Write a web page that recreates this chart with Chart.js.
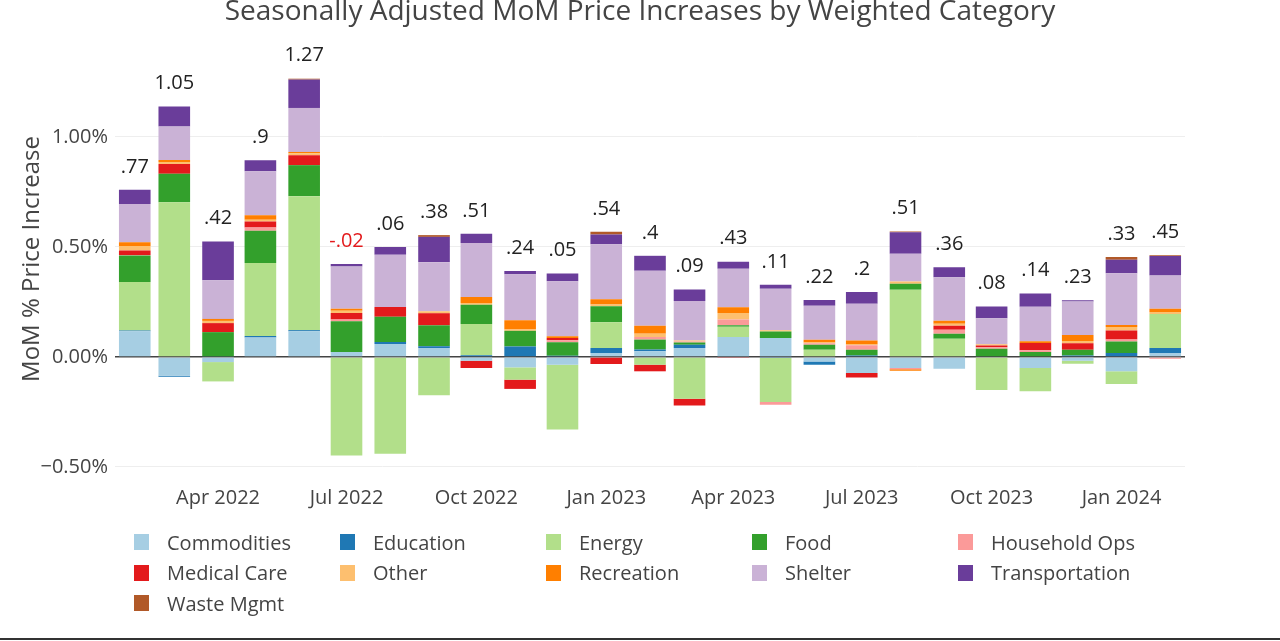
<!DOCTYPE html>
<html>
<head>
<meta charset="utf-8">
<script src="https://cdn.jsdelivr.net/npm/chart.js@4.4.1/dist/chart.umd.min.js"></script>
<style>
  html, body { margin: 0; padding: 0; background: #fff; }
  #wrap { position: relative; width: 1280px; height: 641px; overflow: hidden; font-family: "Open Sans", sans-serif; }
  #chart { position: absolute; left: 0; top: 0; }
  #legend { position: absolute; left: 0; top: 0; width: 1280px; height: 641px; pointer-events: none; }
  .item { position: absolute; display: flex; align-items: center; height: 20px; font-size: 20px; color: #444; white-space: nowrap; }
  .swatch { width: 15px; height: 16px; margin-right: 18px; }
  #bottomline { position: absolute; left: 0; right: 0; top: 638px; height: 2px; background: #333; }
</style>
</head>
<body>
<div id="wrap">
  <canvas id="chart" width="1280" height="641"></canvas>
  <div id="legend"></div>
  <div id="bottomline"></div>
</div>
<script>
const months = ['Feb 2022', 'Mar 2022', 'Apr 2022', 'May 2022', 'Jun 2022', 'Jul 2022', 'Aug 2022', 'Sep 2022',
  'Oct 2022', 'Nov 2022', 'Dec 2022', 'Jan 2023', 'Feb 2023', 'Mar 2023', 'Apr 2023', 'May 2023', 'Jun 2023',
  'Jul 2023', 'Aug 2023', 'Sep 2023', 'Oct 2023', 'Nov 2023', 'Dec 2023', 'Jan 2024', 'Feb 2024'];
const tickLabels = ['Apr 2022', 'Jul 2022', 'Oct 2022', 'Jan 2023', 'Apr 2023', 'Jul 2023', 'Oct 2023', 'Jan 2024'];

const categories = ['Commodities', 'Education', 'Energy', 'Food', 'Household Ops', 'Medical Care',
  'Other', 'Recreation', 'Shelter', 'Transportation', 'Waste Mgmt'];
const colors = ['#a6cee3', '#1f78b4', '#b2df8a', '#33a02c', '#fb9a99', '#e31a1c',
  '#fdbf6f', '#ff7f00', '#cab2d6', '#6a3d9a', '#b15928'];

// weighted MoM contribution (percentage points) per category
const commodities = [0.117, -0.085, -0.023, 0.089, 0.117, 0.023, 0.059, 0.041, -0.017, -0.047, -0.035, 0.018, 0.026,
  0.041, 0.091, 0.086, -0.02, -0.073, -0.05, -0.053, 0, -0.05, -0.017, -0.065, 0.018];
const education = [0.004, -0.005, 0.003, 0.006, 0.005, 0, 0.009, 0.008, 0.008, 0.048, 0.006, 0.023, 0.008,
  0.015, 0, -0.005, -0.015, 0.007, 0, 0, 0, 0, 0.007, 0.018, 0.023];
const energy = [0.22, 0.703, -0.088, 0.332, 0.609, -0.448, -0.44, -0.174, 0.142, -0.056, -0.295, 0.117, -0.035,
  -0.19, 0.047, -0.2, 0.033, 0, 0.306, 0.083, -0.15, -0.106, -0.014, -0.058, 0.155];
const food = [0.12, 0.13, 0.11, 0.147, 0.141, 0.139, 0.115, 0.095, 0.088, 0.071, 0.061, 0.073, 0.045,
  0.01, 0.006, 0.03, 0.023, 0.026, 0.027, 0.023, 0.038, 0.023, 0.026, 0.053, 0];
const householdOps = [0.003, 0, 0, 0.015, 0, 0.008, 0, 0, 0, 0, 0.009, 0, 0.012,
  0.005, 0.026, -0.012, 0.006, 0.02, -0.006, 0.018, 0.006, 0.008, 0, 0.008, -0.008];
const medicalCare = [0.02, 0.044, 0.041, 0.027, 0.045, 0.03, 0.044, 0.055, -0.033, -0.042, 0.01, -0.032, -0.03,
  -0.03, -0.004, 0, 0, -0.02, 0, 0.018, 0.008, 0.033, 0.03, 0.042, 0];
const other = [0.02, 0.009, 0.01, 0.008, 0.009, 0.01, 0, 0.009, 0.008, 0.006, 0, 0.008, 0.015,
  0.004, 0.03, 0.006, 0.004, 0.004, 0.01, 0.009, 0.006, 0, 0.01, 0.015, 0.009];
const recreation = [0.018, 0.01, 0.009, 0.02, 0.006, 0.009, 0, 0, 0.027, 0.042, 0.008, 0.023, 0.036,
  0, 0.026, 0, 0.012, 0.018, -0.006, 0.014, 0, 0.008, 0.027, 0.01, 0.014];
const shelter = [0.174, 0.152, 0.176, 0.2, 0.2, 0.192, 0.238, 0.223, 0.245, 0.209, 0.25, 0.25, 0.25,
  0.18, 0.175, 0.188, 0.155, 0.167, 0.126, 0.198, 0.118, 0.156, 0.152, 0.235, 0.152];
const transportation = [0.064, 0.091, 0.176, 0.05, 0.129, 0.012, 0.035, 0.115, 0.042, 0.015, 0.035, 0.045, 0.068,
  0.052, 0.032, 0.018, 0.026, 0.053, 0.098, 0.045, 0.053, 0.061, 0.006, 0.061, 0.088];
const wasteMgmt = [0, 0, 0, 0, 0.004, 0, 0, 0.008, 0, 0, 0, 0.012, 0,
  0, 0, 0, 0, 0, 0.003, 0, 0, 0, 0, 0.012, 0.004];

// headline MoM totals printed above each bar
const totals = [0.77, 1.05, 0.42, 0.9, 1.27, -0.02, 0.06, 0.38, 0.51, 0.24, 0.05, 0.54, 0.4,
  0.09, 0.43, 0.11, 0.22, 0.2, 0.51, 0.36, 0.08, 0.14, 0.23, 0.33, 0.45];

const yTicks = [-0.5, 0, 0.5, 1.0];

const series = [commodities, education, energy, food, householdOps, medicalCare,
  other, recreation, shelter, transportation, wasteMgmt];

const FONT = '"Open Sans", sans-serif';
const MON = ['Jan', 'Feb', 'Mar', 'Apr', 'May', 'Jun', 'Jul', 'Aug', 'Sep', 'Oct', 'Nov', 'Dec'];

// x axis is a real date axis: days since the first month
function dayOf(label) {
  const [m, y] = label.split(' ');
  return (Date.UTC(+y, MON.indexOf(m), 1) - Date.UTC(2022, 1, 1)) / 86400000;
}
const days = months.map(dayOf);
const tickDays = tickLabels.map(dayOf);
const halfGap = 14; // half of the shortest month

function fmtTotal(v) {
  return String(v).replace(/^(-?)0\./, '$1.');
}

const overlay = {
  id: 'overlay',
  afterDatasetsDraw(chart) {
    const { ctx, scales: { x, y } } = chart;
    ctx.save();
    ctx.font = '28px ' + FONT;
    ctx.fillStyle = '#444';
    ctx.textAlign = 'center';
    ctx.textBaseline = 'alphabetic';
    ctx.fillText('Seasonally Adjusted MoM Price Increases by Weighted Category', 640, 20);

    ctx.font = '20px ' + FONT;
    ctx.textBaseline = 'middle';
    totals.forEach((t, i) => {
      let top = 0;
      series.forEach(s => { if (s[i] > 0) top += s[i]; });
      ctx.fillStyle = t < 0 ? '#e31a1c' : '#222';
      ctx.fillText(fmtTotal(t), x.getPixelForValue(days[i]), y.getPixelForValue(top) - 23);
    });
    ctx.restore();
  }
};

new Chart(document.getElementById('chart'), {
  type: 'bar',
  data: {
    datasets: categories.map((name, k) => ({
      label: name,
      data: series[k].map((v, i) => ({ x: days[i], y: v })),
      backgroundColor: colors[k],
      borderWidth: 0,
      barPercentage: 0.8,
      categoryPercentage: 1
    }))
  },
  options: {
    responsive: false,
    animation: false,
    layout: { padding: { top: 40, right: 95, bottom: 123, left: 0 } },
    plugins: {
      legend: { display: false },
      title: { display: false },
      tooltip: { enabled: false }
    },
    scales: {
      x: {
        type: 'linear',
        stacked: true,
        offset: false,
        min: days[0] - halfGap,
        max: days[days.length - 1] + halfGap,
        grid: { display: false },
        border: { display: false },
        afterFit: (scale) => { scale.height = 40; },
        afterBuildTicks: (scale) => { scale.ticks = tickDays.map(v => ({ value: v })); },
        ticks: {
          autoSkip: false,
          maxRotation: 0,
          padding: 0,
          color: '#444',
          font: { family: FONT, size: 20 },
          callback: (v) => tickLabels[tickDays.indexOf(v)]
        }
      },
      y: {
        stacked: true,
        min: -0.55,
        max: 1.4409,
        afterFit: (scale) => { scale.width = 115; },
        afterBuildTicks: (scale) => { scale.ticks = yTicks.map(v => ({ value: v })); },
        border: { display: false },
        grid: {
          drawTicks: false,
          color: (c) => (c.tick && c.tick.value === 0 ? '#444' : '#eeeeee'),
          lineWidth: (c) => (c.tick && c.tick.value === 0 ? 1.5 : 1)
        },
        ticks: {
          padding: 7,
          color: '#444',
          font: { family: FONT, size: 20 },
          callback: (v) => (v < 0 ? '\u2212' : '') + Math.abs(v).toFixed(2) + '%'
        },
        title: {
          display: true,
          text: 'MoM % Price Increase',
          color: '#444',
          font: { family: FONT, size: 24 },
          padding: { top: 18, bottom: 0 }
        }
      }
    }
  },
  plugins: [overlay]
});

// legend in five columns under the plot
const legend = document.getElementById('legend');
categories.forEach((name, k) => {
  const row = Math.floor(k / 5), col = k % 5;
  const el = document.createElement('div');
  el.className = 'item';
  el.style.left = (134 + col * 206) + 'px';
  el.style.top = (532 + row * 30.5) + 'px';
  el.innerHTML = '<span class="swatch" style="background:' + colors[k] + '"></span>' + name;
  legend.appendChild(el);
});
</script>
</body>
</html>
